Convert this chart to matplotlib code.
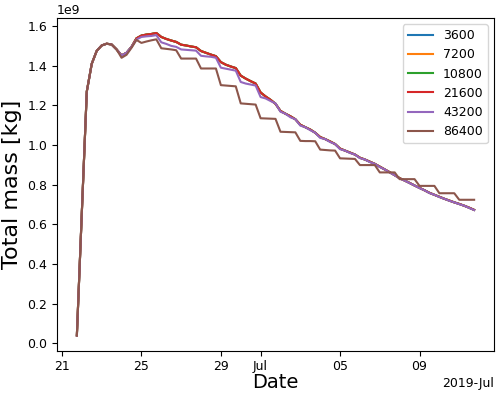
import matplotlib
matplotlib.use("Agg")
import matplotlib.pyplot as plt
import matplotlib.dates as mdates
import pandas as pd

# ---------------------------------------------------------
# Data (total mass, 1e9 kg), 6-hourly from 2019-06-21 18:00
# ---------------------------------------------------------

start_time = "2019-06-21 18:00"
n_steps = 81

labels = ["3600", "7200", "10800", "21600", "43200", "86400"]

mass_21600 = [
    0.04, 0.66, 1.27, 1.41, 1.475, 1.502, 1.511, 1.507, 1.482, 1.452,
    1.465, 1.495, 1.538, 1.552, 1.557, 1.560, 1.565, 1.545, 1.535, 1.527,
    1.520, 1.506, 1.502, 1.497, 1.493, 1.474, 1.465, 1.456, 1.448, 1.418,
    1.405, 1.396, 1.388, 1.350, 1.335, 1.322, 1.310, 1.265, 1.245, 1.228,
    1.208, 1.172, 1.158, 1.145, 1.130, 1.102, 1.090, 1.078, 1.062, 1.040,
    1.030, 1.018, 1.005, 0.982, 0.972, 0.962, 0.952, 0.936, 0.927, 0.916,
    0.905, 0.891, 0.877, 0.863, 0.848, 0.833, 0.821, 0.809, 0.796, 0.784,
    0.772, 0.759, 0.749, 0.739, 0.729, 0.720, 0.711, 0.703, 0.694, 0.684,
    0.673,
]

# the finer output intervals sit underneath the 21600 curve
mass_3600 = mass_21600
mass_7200 = mass_21600
mass_10800 = mass_21600

mass_43200 = [
    0.04, 0.66, 1.27, 1.41, 1.475, 1.502, 1.511, 1.507, 1.482, 1.452,
    1.465, 1.495, 1.532, 1.545, 1.548, 1.550, 1.554, 1.518, 1.510, 1.500,
    1.495, 1.482, 1.480, 1.478, 1.476, 1.450, 1.447, 1.445, 1.440, 1.390,
    1.385, 1.380, 1.375, 1.318, 1.310, 1.305, 1.300, 1.242, 1.235, 1.222,
    1.210, 1.168, 1.158, 1.140, 1.130, 1.098, 1.090, 1.075, 1.062, 1.036,
    1.030, 1.015, 1.005, 0.979, 0.972, 0.960, 0.952, 0.934, 0.927, 0.914,
    0.905, 0.889, 0.877, 0.861, 0.848, 0.831, 0.821, 0.808, 0.796, 0.783,
    0.772, 0.758, 0.749, 0.738, 0.729, 0.719, 0.711, 0.702, 0.694, 0.683,
    0.672,
]

mass_86400 = [
    0.04, 0.66, 1.27, 1.41, 1.475, 1.502, 1.511, 1.507, 1.482, 1.440,
    1.455, 1.490, 1.530, 1.515, 1.522, 1.528, 1.533, 1.488, 1.485, 1.482,
    1.478, 1.436, 1.436, 1.436, 1.436, 1.386, 1.386, 1.386, 1.386, 1.302,
    1.300, 1.298, 1.296, 1.210, 1.208, 1.206, 1.204, 1.135, 1.134, 1.133,
    1.132, 1.067, 1.066, 1.065, 1.064, 1.021, 1.020, 1.020, 1.019, 0.977,
    0.975, 0.973, 0.972, 0.933, 0.932, 0.931, 0.930, 0.899, 0.899, 0.899,
    0.899, 0.862, 0.862, 0.862, 0.862, 0.828, 0.828, 0.828, 0.828, 0.794,
    0.794, 0.794, 0.794, 0.757, 0.757, 0.757, 0.757, 0.724, 0.724, 0.724,
    0.724,
]

series = [mass_3600, mass_7200, mass_10800, mass_21600, mass_43200, mass_86400]

# ---------------------------------------------------------
# Plot
# ---------------------------------------------------------

times = pd.date_range(start_time, periods=n_steps, freq="6h")

fig = plt.figure(figsize=(5.0, 3.97), dpi=100)
ax = fig.add_subplot(111)
fig.subplots_adjust(left=0.114, right=0.988, bottom=0.117, top=0.955)

for label, values in zip(labels, series):
    ax.plot(times, [v * 1e9 for v in values], label=label)

locator = mdates.DayLocator(bymonthday=range(1, 32, 4))
ax.xaxis.set_major_locator(locator)
ax.xaxis.set_major_formatter(mdates.ConciseDateFormatter(locator))

ax.tick_params(labelsize=9)
ax.yaxis.get_offset_text().set_fontsize(9)
ax.xaxis.get_offset_text().set_fontsize(9)

ax.set_xlabel("Date", fontsize=14, labelpad=0)
ax.set_ylabel("Total mass [kg]", fontsize=16)

ax.legend(loc="upper right", fontsize=9)

fig.savefig("out.png", dpi=100)
